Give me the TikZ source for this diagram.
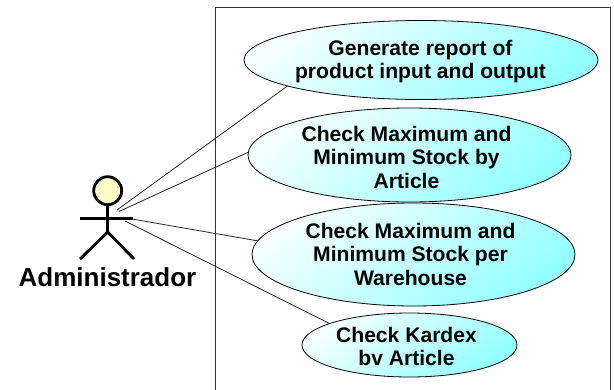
\documentclass[tikz,border=0pt]{standalone}
\usepackage{fontspec}
\setmainfont{Liberation Sans}
\usetikzlibrary{shapes.geometric}
\tikzset{
  usecase/.style={ellipse,draw=black,line width=0.8pt,inner sep=0pt,outer sep=0pt,
    shading=axis,top color=cyan!4,bottom color=cyan!42,shading angle=40},
  casetext/.style={align=center,inner sep=0pt,font=\bfseries\fontsize{21.1}{23.5}\selectfont},
  link/.style={draw=black!85,line width=0.8pt},
  stick/.style={draw=black,line width=2.8pt}
}
\begin{document}
\begin{tikzpicture}[x=1pt,y=-1pt]
\useasboundingbox (0,0) rectangle (614,389);
\fill[white] (0,0) rectangle (614,389);
\draw[draw=black!80,line width=1pt] (215,400) -- (215,7.5) -- (610.5,7.5) -- (610.5,400);
\node[usecase,minimum width=354pt,minimum height=79pt] (e1) at (421,60) {};
\node[usecase,minimum width=323pt,minimum height=94pt] (e2) at (409.5,155) {};
\node[usecase,minimum width=323pt,minimum height=103pt] (e3) at (413.5,254.5) {};
\node[usecase,minimum width=215pt,minimum height=64pt] (e4) at (409.5,345) {};
\node[casetext] (t1) at (420.5,61.5) {Generate report of\\product input and output};
\node[casetext] (t2) at (406.5,157) {Check Maximum and\\Minimum Stock by\\Article};
\node[casetext] (t3) at (410.5,254) {Check Maximum and\\Minimum Stock per\\Warehouse};
\node[casetext] (t4) at (406.5,346.5) {Check Kardex\\bv Article};
\coordinate (a1) at (117,210);
\coordinate (a2) at (119,211.5);
\coordinate (a3) at (132,219);
\coordinate (a4) at (125,221);
\draw[link] (a1) -- (e1.191.2);
\draw[link] (a2) -- (e2.179.3);
\draw[link] (a3) -- (e3.175);
\draw[link] (a4) -- (e4.165.7);
\node[circle,draw=black,line width=2.8pt,fill=yellow!22,minimum size=28pt,inner sep=0pt] (head) at (107.7,190.7) {};
\coordinate (hip) at (107.7,232);
\coordinate (armL) at (80,218.5);
\coordinate (armR) at (133,218.5);
\coordinate (footL) at (80,259);
\coordinate (footR) at (134,259);
\draw[stick] (head) -- (hip);
\draw[stick] (armL) -- (armR);
\draw[stick] (footL) -- (hip) -- (footR);
\node[font=\bfseries\fontsize{26}{30}\selectfont,inner sep=0pt] (name) at (107.5,277) {Administrador};
\end{tikzpicture}
\end{document}
